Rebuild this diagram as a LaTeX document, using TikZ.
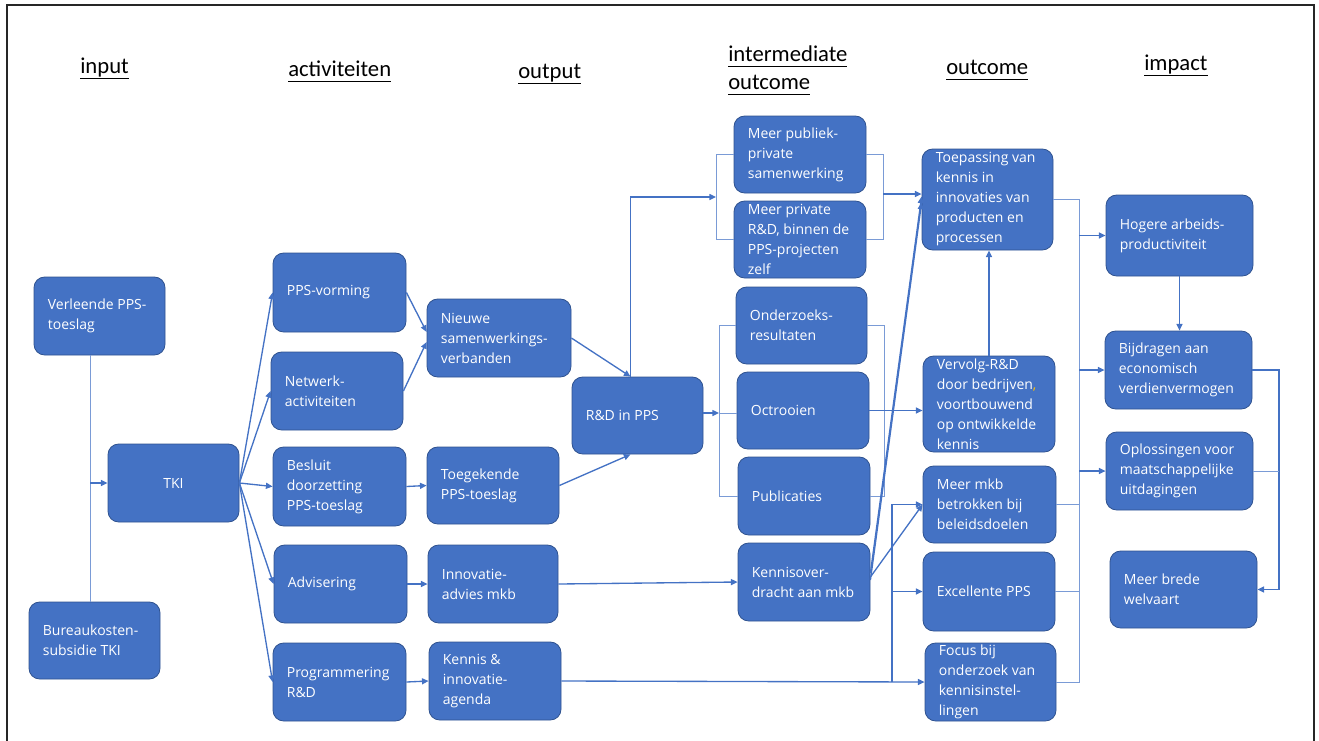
\documentclass[tikz,border=0pt]{standalone}
\usepackage{fontspec}
\setmainfont{Open Sans}
\newfontfamily\hdrfont{Carlito}
\usetikzlibrary{arrows.meta,calc}
\definecolor{boxblue}{HTML}{4472C4}
\definecolor{boxedge}{HTML}{2F528F}
\definecolor{lnblue}{HTML}{4472C4}
\definecolor{thinblue}{HTML}{7A9BD6}
\definecolor{commaor}{HTML}{FFC000}
\newcommand\bx[6]{%
 \pgfmathsetmacro\bxw{(#4-#2)*0.75}%
 \pgfmathsetmacro\bxh{(#5-#3)*0.75}%
 \node[box, minimum width=\bxw pt, minimum height=\bxh pt] (#1) at ({(#2+#4)/2},{(#3+#5)/2}) {};%
 \node[txt] (#1-t) at ($(#1.west)+(14,0)$) {#6};}
\newcommand\hdrul[1]{\underline{#1\vphantom{p}}}
\begin{document}
\begin{tikzpicture}[x=0.75pt,y=-0.75pt,
 box/.style={draw=boxedge, line width=0.6pt, fill=boxblue, rounded corners=8pt, inner sep=0pt},
 txt/.style={text=white, font=\fontsize{10.5}{15}\selectfont, align=left, inner sep=0pt, anchor=west},
 hdr/.style={font=\hdrfont\fontsize{17}{20}\selectfont, anchor=base west, inner sep=0pt},
 ln/.style={draw=lnblue, line width=1pt},
 arr/.style={ln, -{Triangle[length=5pt,width=4.5pt]}},
 thinln/.style={draw=thinblue, line width=0.7pt}]
\useasboundingbox (0,0) rectangle (1319,740);
\draw[line width=1.8pt, black!85] (7,742) -- (7,5) -- (1314,5) -- (1314,742);

% headers
\node[hdr] (h1) at (80,73) {\hdrul{input}};
\node[hdr] (h2) at (288,76) {\hdrul{activiteiten}};
\node[hdr] (h3) at (518,78) {\hdrul{output}};
\node[hdr] (h4a) at (728,61) {\hdrul{intermediate}};
\node[hdr] (h4b) at (728,89) {\hdrul{outcome}};
\node[hdr] (h5) at (946,74) {\hdrul{outcome}};
\node[hdr] (h6) at (1144,70) {\hdrul{impact}};

% boxes
\bx{verl}{34}{277}{165}{355}{Verleende PPS-\\toeslag}
\bx{bur}{29}{602}{160}{679}{Bureaukosten-\\subsidie TKI}
\node[box, minimum width=98.25pt, minimum height=58.5pt] (tki) at (173.5,483) {};
\node[txt, anchor=center] (tki-t) at (tki.center) {TKI};
\bx{ppsv}{273}{253}{406}{332}{PPS-vorming}
\bx{netw}{271}{352}{403}{430}{Netwerk-\\activiteiten}
\bx{bes}{273}{447}{406}{526}{Besluit\\doorzetting\\PPS-toeslag}
\bx{adv}{274}{545}{407}{623}{Advisering}
\bx{prog}{273}{643}{406}{721}{Programmering\\R\&D}
\bx{nieuw}{427}{299}{571}{377}{Nieuwe\\samenwerkings-\\verbanden}
\bx{toeg}{427}{447}{559}{524}{Toegekende\\PPS-toeslag}
\bx{inno}{428}{545}{558}{623}{Innovatie-\\advies mkb}
\bx{kia}{429}{642}{561}{720}{Kennis \&\\innovatie-\\agenda}
\bx{rd}{572}{377}{703}{454}{R\&D in PPS}
\bx{mpp}{734}{116}{866}{193}{Meer publiek-\\private\\samenwerking}
\bx{mpr}{734}{201}{866}{278}{Meer private\\R\&D, binnen de\\PPS-projecten\\zelf}
\bx{ond}{736}{287}{867}{364}{Onderzoeks-\\resultaten}
\bx{oct}{737}{372}{869}{449}{Octrooien}
\bx{pub}{738}{457}{870}{535}{Publicaties}
\bx{kenn}{738}{543}{870}{621}{Kennisover-\\dracht aan mkb}
\bx{toep}{922}{149}{1053}{250}{Toepassing van\\kennis in\\innovaties van\\producten en\\processen}
\bx{verv}{923}{356}{1055}{452}{Vervolg-R\&D\\door bedrijven{\color{commaor},}\\voortbouwend\\op ontwikkelde\\kennis}
\bx{mmkb}{923}{466}{1056}{543}{Meer mkb\\betrokken bij\\beleidsdoelen}
\bx{exc}{923}{552}{1055}{631}{Excellente PPS}
\bx{foc}{925}{643}{1056}{721}{Focus bij\\onderzoek van\\kennisinstel-\\lingen}
\bx{hog}{1106}{195}{1253}{276}{Hogere arbeids-\\productiviteit}
\bx{bij}{1105}{331}{1252}{409}{Bijdragen aan\\economisch\\verdienvermogen}
\bx{opl}{1106}{432}{1253}{510}{Oplossingen voor\\maatschappelijke\\uitdagingen}
\bx{welv}{1110}{551}{1257}{628}{Meer brede\\welvaart}

% input -> TKI
\coordinate (j1) at (90,483);
\draw[thinln] (verl.south -| j1) -- (bur.north -| j1);
\draw[arr] (j1) -- (j1 -| tki.west);

% TKI fan
\draw[arr] (tki.east) -- (ppsv.west);
\draw[arr] (tki.east) -- (netw.west);
\draw[arr] (tki.east) -- (bes.west);
\draw[arr] (tki.east) -- (adv.west);
\draw[arr] (tki.east) -- (prog.west);

% activities -> outputs
\draw[arr] (ppsv.east) -- ($(nieuw.west)+(0,-6)$);
\draw[arr] (netw.east) -- ($(nieuw.west)+(0,4)$);
\draw[arr] (bes.east) -- (toeg.west);
\draw[arr] (adv.east) -- (inno.west);
\draw[arr] (prog.east) -- (kia.west);

% outputs -> R&D
\coordinate (rdn) at ($(rd.north)+(-7,0)$);
\coordinate (rds) at ($(rd.south)+(-7,0)$);
\draw[arr] (nieuw.east) -- (rdn);
\draw[arr] (toeg.east) -- (rds);

% R&D -> upper intermediate group
\coordinate (b1) at (716,197);
\draw[thinln] (mpp.west) -- (mpp.west -| b1) -- (mpr.west -| b1) -- (mpr.west);
\draw[arr] (rdn) |- (b1);
\coordinate (b2) at (883,194);
\draw[thinln] (mpp.east) -- (mpp.east -| b2) -- (mpr.east -| b2) -- (mpr.east);
\draw[arr] (b2) -- (b2 -| toep.west);

% R&D -> lower intermediate group
\coordinate (b3) at (719,413);
\draw[thinln] (ond.west) -- (ond.west -| b3) -- (pub.west -| b3) -- (pub.west);
\draw[arr] (rd.east |- b3) -- (b3);
\draw[thinln] (b3) -- (b3 -| oct.west);
\coordinate (b7) at (884,413);
\draw[thinln] (ond.east) -- (ond.east -| b7) -- (pub.east -| b7) -- (pub.east);
\draw[arr] (oct.east) -- (oct.east -| verv.west);

% Kennisoverdracht
\draw[arr] (inno.east) -- (kenn.west);
\draw[arr] ($(kenn.east)+(0,-9)$) -- ($(toep.west)+(0,-3)$);
\draw[arr] ($(kenn.east)+(0,-2)$) -- ($(toep.west)+(0,3)$);
\draw[arr] ($(kenn.east)+(0,-5)$) -- (mmkb.west);

% Kennis & innovatie-agenda
\draw[arr] (kia.east) -- (foc.west);
\coordinate (b4) at (892,600);
\draw[arr] (foc.west -| b4) |- (mmkb.west);
\draw[arr] (exc.west -| b4) -- (exc.west);

% Vervolg -> Toepassing
\draw[arr] (verv.north) -- (verv.north |- toep.south);

% outcome bus
\coordinate (b5) at (1079,400);
\draw[thinln] (toep.east) -- (toep.east -| b5) -- (foc.east -| b5) -- (foc.east);
\draw[thinln] (mmkb.east) -- (mmkb.east -| b5);
\draw[thinln] (exc.east) -- (exc.east -| b5);
\draw[arr] (hog.west -| b5) -- (hog.west);
\draw[arr] (bij.west -| b5) -- (bij.west);
\draw[arr] (opl.west -| b5) -- (opl.west);

% impact
\draw[arr] (hog.south) -- (hog.south |- bij.north);
\coordinate (b6) at (1279,450);
\draw[arr] (bij.east) -- (bij.east -| b6) -- (welv.east -| b6) -- (welv.east);
\draw[thinln] (opl.east) -- (opl.east -| b6);
\end{tikzpicture}
\end{document}
